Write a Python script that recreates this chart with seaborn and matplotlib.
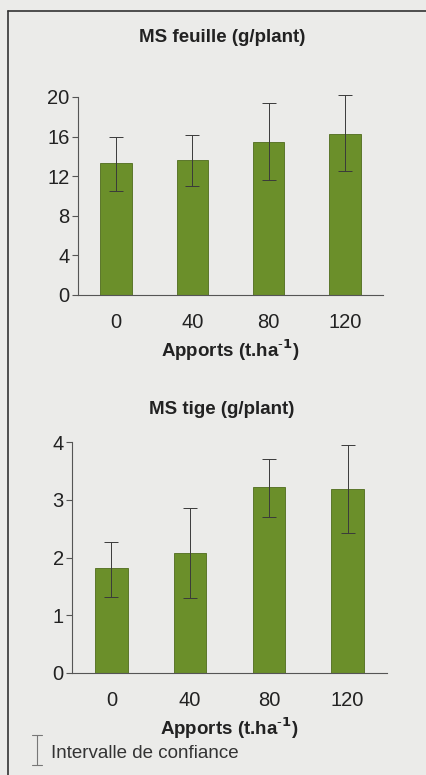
import numpy as np
import pandas as pd
import matplotlib.pyplot as plt
import seaborn as sns
from matplotlib.lines import Line2D

# Données
apports = ["0", "40", "80", "120"]
ms_feuille = [13.3, 13.6, 15.5, 16.3]
feuille_bas = [10.5, 11.0, 11.6, 12.5]
feuille_haut = [16.0, 16.2, 19.4, 20.2]
ms_tige = [1.82, 2.08, 3.22, 3.18]
tige_bas = [1.32, 1.30, 2.70, 2.42]
tige_haut = [2.27, 2.86, 3.71, 3.95]

fond = "#ebebe9"
vert = "#6b8f2a"
gris = "#555555"

sns.set_style("white")
plt.rcParams["font.family"] = ["Liberation Sans", "DejaVu Sans"]

fig = plt.figure(figsize=(4.27, 7.75), dpi=100)
fig.patch.set_facecolor(fond)

# cadre (bord gauche et haut)
fig.add_artist(Line2D([8 / 427, 8 / 427], [0, 1 - 11 / 775], color="#333333", lw=1.2))
fig.add_artist(Line2D([8 / 427, 1], [1 - 11 / 775, 1 - 11 / 775], color="#333333", lw=1.2))


def panneau(ax, valeurs, bas, haut, titre, yticks, ylim, titre_y):
    df = pd.DataFrame({"Apports": apports, "MS": valeurs})
    sns.barplot(data=df, x="Apports", y="MS", ax=ax, color=vert, width=0.41,
                saturation=1, edgecolor="#4f6b1c", linewidth=0.6, errorbar=None)
    x = np.arange(len(apports))
    v = np.array(valeurs)
    err = [v - np.array(bas), np.array(haut) - v]
    eb = ax.errorbar(x, v, yerr=err, fmt="none", ecolor="#3a3a3a", elinewidth=0.7,
                     capsize=5, capthick=0.7)
    for art in eb.get_children():
        art.set_clip_on(False)
    ax.set_facecolor(fond)
    ax.set_xlim(-0.5, 3.5)
    ax.set_ylim(*ylim)
    ax.set_yticks(yticks)
    ax.set_xticks(x)
    ax.set_xticklabels(apports)
    ax.set_xticks(np.arange(-0.5, 4.0, 1.0), minor=True)
    ax.tick_params(axis="x", which="major", length=0, pad=13, labelsize=14.5, labelcolor="#222222")
    ax.tick_params(axis="x", which="minor", length=4, direction="out", color=gris, width=0.8)
    ax.tick_params(axis="y", length=4, direction="out", color=gris, width=0.8, labelsize=14.5,
                   labelcolor="#222222", left=True, pad=2)
    for s in ["top", "right"]:
        ax.spines[s].set_visible(False)
    for s in ["left", "bottom"]:
        ax.spines[s].set_color(gris)
        ax.spines[s].set_linewidth(0.8)
    ax.set_ylabel("")
    ax.set_xlabel(r"Apports (t.ha$^{\mathbf{\text{-}1}}$)", fontsize=13.5, fontweight="bold",
                  color="#222222", labelpad=4)
    fig.text(0.52, titre_y, titre, ha="center", va="center", fontsize=13.5,
             fontweight="bold", color="#222222")


ax1 = fig.add_axes([78 / 427, 1 - 295 / 775, 305 / 427, 198 / 775])
panneau(ax1, ms_feuille, feuille_bas, feuille_haut, "MS feuille (g/plant)",
        [0, 4, 8, 12, 16, 20], (0, 20), 1 - 37 / 775)

ax2 = fig.add_axes([72 / 427, 1 - 673 / 775, 315 / 427, 231 / 775])
panneau(ax2, ms_tige, tige_bas, tige_haut, "MS tige (g/plant)",
        [0, 1, 2, 3, 4], (0, 4), 1 - 409 / 775)

# légende : intervalle de confiance
lx, ly0, ly1 = 37 / 427, 1 - 765 / 775, 1 - 735 / 775
fig.add_artist(Line2D([lx, lx], [ly0, ly1], color="#777777", lw=0.8))
fig.add_artist(Line2D([lx - 5 / 427, lx + 5 / 427], [ly0, ly0], color="#777777", lw=0.8))
fig.add_artist(Line2D([lx - 5 / 427, lx + 5 / 427], [ly1, ly1], color="#777777", lw=0.8))
fig.text(51 / 427, 1 - 753 / 775, "Intervalle de confiance", ha="left", va="center",
         fontsize=13.5, color="#333333")

fig.savefig("out.png", dpi=100, facecolor=fond)
